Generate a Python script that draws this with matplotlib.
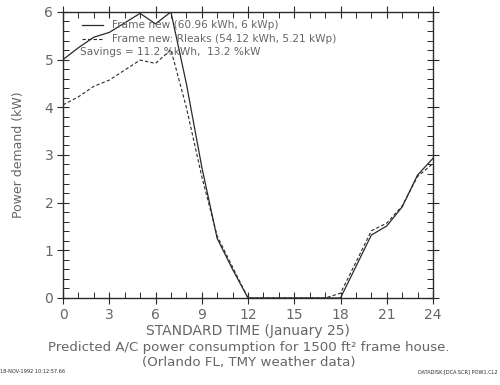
import matplotlib.pyplot as plt
import numpy as np
from matplotlib.ticker import MultipleLocator

# Horas (0..24) y demanda (kW)
hours = list(range(25))
frame_new = [5.00, 5.25, 5.47, 5.57, 5.77, 5.97, 5.75, 6.00, 4.50, 2.75, 1.25, 0.60, 0.0,
             0.0, 0.0, 0.0, 0.0, 0.0, 0.0, 0.66, 1.32, 1.51, 1.91, 2.58, 2.93]
frame_rleaks = [4.05, 4.22, 4.44, 4.57, 4.78, 4.99, 4.92, 5.21, 4.00, 2.55, 1.30, 0.65, 0.0,
                0.0, 0.0, 0.0, 0.0, 0.0, 0.10, 0.75, 1.41, 1.57, 1.93, 2.55, 2.82]

legend_texts = ["Frame new (60.96 kWh, 6 kWp)",
                "Frame new: Rleaks (54.12 kWh, 5.21 kWp)"]
savings_text = "Savings = 11.2 %kWh,  13.2 %kW"

ink = "#2a2a2a"
txt = "#666666"

fig = plt.figure(figsize=(5, 3.85), dpi=100)
ax = fig.add_axes([0.126, 0.226, 0.740, 0.743])

ax.plot(hours, frame_new, c=ink, lw=0.9)
ax.plot(hours, frame_rleaks, c=ink, lw=0.8, ls=(0, (3, 2)))

ax.set_xlim(0, 24)
ax.set_ylim(0, 6)
ax.xaxis.set_major_locator(MultipleLocator(3))
ax.xaxis.set_minor_locator(MultipleLocator(1))
ax.yaxis.set_major_locator(MultipleLocator(1))
ax.yaxis.set_minor_locator(MultipleLocator(0.2))
ax.tick_params(which="major", direction="inout", length=8, width=0.8,
               top=True, right=True, colors=ink, labelcolor=txt, labelsize=10, pad=3)
ax.tick_params(which="minor", direction="in", length=4, width=0.7,
               top=True, right=True, colors=ink)
for s in ax.spines.values():
    s.set_color(ink)
    s.set_linewidth(1.0)

ax.set_ylabel("Power demand (kW)", color=txt, fontsize=9, labelpad=14)
ax.set_xlabel("STANDARD TIME (January 25)", color=txt, fontsize=10, labelpad=2)

# leyenda dibujada a mano, como en el original
ax.plot([1.25, 2.6], [5.72, 5.72], c=ink, lw=0.9)
ax.plot([1.25, 2.6], [5.43, 5.43], c=ink, lw=0.8, ls=(0, (3, 2)))
ax.text(3.15, 5.72, legend_texts[0], fontsize=7.6, color=txt, va="center")
ax.text(3.15, 5.43, legend_texts[1], fontsize=7.6, color=txt, va="center")
ax.text(1.1, 5.16, savings_text, fontsize=7.6, color=txt, va="center")

fig.text(0.497, 0.097, "Predicted A/C power consumption for 1500 ft\u00b2 frame house.",
         ha="center", va="center", fontsize=9.6, color=txt)
fig.text(0.497, 0.058, "(Orlando FL, TMY weather data)",
         ha="center", va="center", fontsize=9.6, color=txt)
fig.text(0.0, 0.036, "18-NOV-1992 10:12:57.66", ha="left", va="center",
         fontsize=3.6, color=ink)
fig.text(0.995, 0.033, "DATADISK:[DCA.SCR] POW1.CL2", ha="right", va="center",
         fontsize=3.6, color=ink)

fig.savefig("out.png", dpi=100)
